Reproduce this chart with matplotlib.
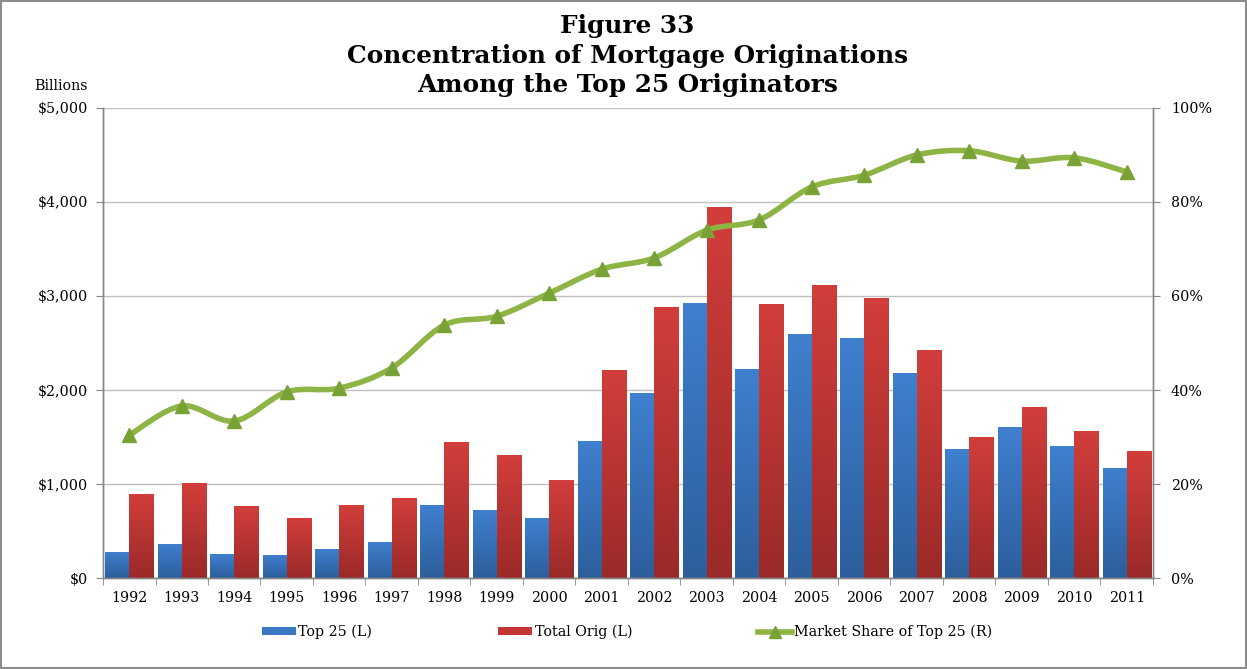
import matplotlib
matplotlib.use("Agg")
import matplotlib.pyplot as plt
import numpy as np
from matplotlib.path import Path
from matplotlib.patches import PathPatch, Rectangle
from matplotlib.lines import Line2D
from matplotlib.colors import LinearSegmentedColormap
from matplotlib.ticker import FuncFormatter, FixedLocator

years = ["1992", "1993", "1994", "1995", "1996", "1997", "1998", "1999", "2000", "2001",
         "2002", "2003", "2004", "2005", "2006", "2007", "2008", "2009", "2010", "2011"]
top25 = [277, 362, 255, 245, 309, 383, 777, 723, 638, 1457,
         1968, 2926, 2223, 2596, 2553, 2181, 1372, 1606, 1404, 1170]
total_orig = [894, 1011, 766, 638, 777, 851, 1447, 1309, 1043, 2213,
              2883, 3947, 2915, 3117, 2979, 2426, 1500, 1819, 1564, 1351]
market_share = [30.4, 36.6, 33.4, 39.6, 40.4, 44.7, 53.8, 55.7, 60.6, 65.7,
                 68.1, 74.0, 76.2, 83.2, 85.7, 90.0, 90.9, 88.7, 89.4, 86.4]

plt.rcParams['font.family'] = ['DejaVu Serif']

fig = plt.figure(figsize=(12.47, 6.69), dpi=100)
ax = fig.add_axes([0.0826, 0.136, 0.842, 0.7026])
ax2 = ax.twinx()

x = np.arange(len(years))
w = 0.46
grad = np.linspace(0, 1, 256).reshape(-1, 1)

def grad_bars(xs, vals, c_top, c_bot, label):
    bars = ax.bar(xs, vals, width=w, color=c_top, edgecolor='none', label=label, zorder=2)
    cmap = LinearSegmentedColormap.from_list('g', [c_bot, c_top])
    for b in bars:
        x0, y0 = b.get_x(), b.get_y()
        bw, bh = b.get_width(), b.get_height()
        im = ax.imshow(grad, cmap=cmap, origin='lower', aspect='auto',
                       extent=[x0, x0 + bw, y0, y0 + bh], zorder=2.5)
        im.set_clip_path(b)
    return bars

grad_bars(x - w / 2, top25, '#3F80CF', '#2D5E9C', 'Top 25 (L)')
grad_bars(x + w / 2, total_orig, '#D23E3B', '#9A2A29', 'Total Orig (L)')

FS = 10.3
ax.set_xlim(-0.5, len(years) - 0.5)
ax.set_ylim(0, 5000)
ax.set_yticks(np.arange(0, 5001, 1000))
ax.yaxis.set_major_formatter(FuncFormatter(lambda v, p: f"${int(v):,}"))
ax.grid(axis='y', color='#BFBFBF', linewidth=1, zorder=0)
ax.set_axisbelow(True)
ax.set_xticks(x)
ax.set_xticklabels(years)
ax.xaxis.set_minor_locator(FixedLocator(np.arange(-0.5, len(years), 1)))
ax.tick_params(axis='x', which='major', length=0, labelsize=FS, pad=9)
ax.tick_params(axis='x', which='minor', length=5, color='#868686', direction='out')
ax.tick_params(axis='y', length=5, color='#868686', labelsize=FS, pad=6)

ax2.set_ylim(0, 100)
ax2.set_yticks(np.arange(0, 101, 20))
ax2.yaxis.set_major_formatter(FuncFormatter(lambda v, p: f"{int(v)}%"))
ax2.tick_params(axis='y', length=5, color='#868686', labelsize=FS, pad=8)

for a in (ax, ax2):
    a.spines['top'].set_visible(False)
    for s in ('left', 'right', 'bottom'):
        a.spines[s].set_color('#868686')
        a.spines[s].set_linewidth(1)

# smooth line (Catmull-Rom rendered as cubic Bezier through the data points)
ms = np.array(market_share, dtype=float)
xs = x.astype(float)
verts = [(xs[0], ms[0])]
codes = [Path.MOVETO]
n = len(xs)
for i in range(n - 1):
    p0 = np.array([xs[max(i - 1, 0)], ms[max(i - 1, 0)]])
    p1 = np.array([xs[i], ms[i]])
    p2 = np.array([xs[i + 1], ms[i + 1]])
    p3 = np.array([xs[min(i + 2, n - 1)], ms[min(i + 2, n - 1)]])
    c1 = p1 + (p2 - p0) / 6.0
    c2 = p2 - (p3 - p1) / 6.0
    verts += [tuple(c1), tuple(c2), tuple(p2)]
    codes += [Path.CURVE4] * 3
patch = PathPatch(Path(verts, codes), facecolor='none', edgecolor='#8DB445',
                  linewidth=4, zorder=5, capstyle='round', joinstyle='round')
ax2.add_patch(patch)
ax2.plot(xs, ms, linestyle='none', marker='^', markersize=10, color='#78A136',
         zorder=6)

# legend
handles = [Rectangle((0, 0), 1, 1, facecolor='#3A78C4'),
           Rectangle((0, 0), 1, 1, facecolor='#C33634'),
           Line2D([], [], color='#8DB445', linewidth=4, marker='^', markersize=9,
                  markerfacecolor='#78A136', markeredgecolor='#78A136')]
labels = ['Top 25 (L)', 'Total Orig (L)', 'Market Share of Top 25 (R)']
fig.legend(handles, labels, loc='center', bbox_to_anchor=(0.503, 0.055), ncol=3,
           frameon=False, fontsize=10.3, handlelength=2.4, handleheight=0.45,
           handletextpad=0.15, columnspacing=8.8)

tkw = dict(ha='center', va='baseline', fontweight='bold', fontsize=17.8)
fig.text(0.503, 1 - 33 / 669, "Figure 33", **tkw)
fig.text(0.503, 1 - 63 / 669, "Concentration of Mortgage Originations", **tkw)
fig.text(0.503, 1 - 92 / 669, "Among the Top 25 Originators", **tkw)
fig.text(0.049, 1 - 86 / 669, "Billions", ha='center', va='center', fontsize=10.3)

fig.patches.append(Rectangle((0.001, 0.002), 0.998, 0.996, transform=fig.transFigure,
                             fill=False, edgecolor='#8C8C8C', linewidth=1.5))

fig.savefig("out.png", dpi=100)
